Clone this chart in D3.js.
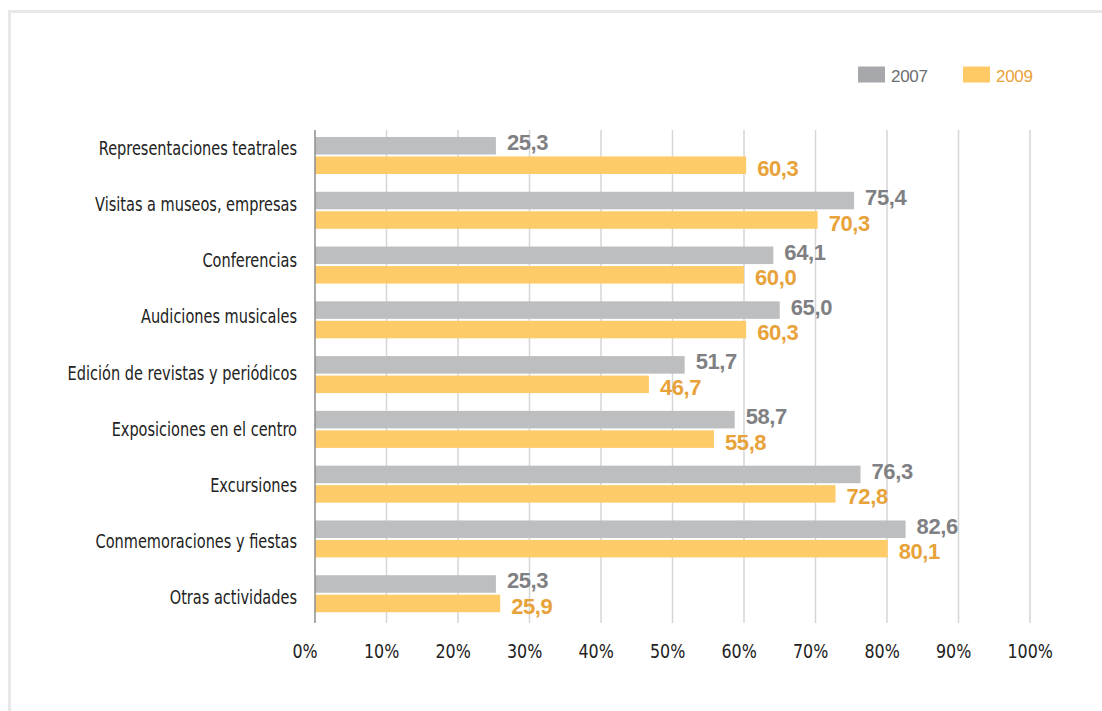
<!DOCTYPE html>
<html>
<head>
<meta charset="utf-8">
<script src="https://cdn.jsdelivr.net/npm/d3@7"></script>
<style>
  html, body { margin: 0; padding: 0; background: #fff; }
  svg { display: block; }
</style>
</head>
<body>
<svg id="chart" width="1102" height="711"></svg>
<script>
const categories = [
  "Representaciones teatrales",
  "Visitas a museos, empresas",
  "Conferencias",
  "Audiciones musicales",
  "Edición de revistas y periódicos",
  "Exposiciones en el centro",
  "Excursiones",
  "Conmemoraciones y fiestas",
  "Otras actividades"
];
const seriesNames = ["2007", "2009"];
const values2007 = [25.3, 75.4, 64.1, 65.0, 51.7, 58.7, 76.3, 82.6, 25.3];
const values2009 = [60.3, 70.3, 60.0, 60.3, 46.7, 55.8, 72.8, 80.1, 25.9];
const tickValues = [0, 10, 20, 30, 40, 50, 60, 70, 80, 90, 100];
const tickLabels = ["0%", "10%", "20%", "30%", "40%", "50%", "60%", "70%", "80%", "90%", "100%"];

const barColors = { "2007": "#BDBEC0", "2009": "#FECB69" };
const swatchColors = { "2007": "#A7A8AB", "2009": "#FFC966" };
const textColors = { "2007": "#7F8083", "2009": "#E8A23A" };

const narrowFont = "'Liberation Sans Narrow', 'DejaVu Sans Condensed', sans-serif";

const svg = d3.select("#chart");

// frame
svg.append("rect")
  .attr("x", 9.5).attr("y", 11.5)
  .attr("width", 1110).attr("height", 720)
  .attr("fill", "none").attr("stroke", "#E8E8E8").attr("stroke-width", 3);

const x = d3.scaleLinear().domain([0, 100]).range([315, 1030]);
const y = d3.scaleBand().domain(categories).range([130, 623]);
const ySub = d3.scaleBand().domain(seriesNames).range([7, 44]).paddingInner(0.1);
const yLabel = d3.scalePoint().domain(categories).range([155, 604]);

// gridlines
svg.append("g").selectAll("line")
  .data(tickValues.filter(t => t > 0))
  .join("line")
  .attr("x1", d => x(d)).attr("x2", d => x(d))
  .attr("y1", 130).attr("y2", 623)
  .attr("stroke", "#D6D6D6").attr("stroke-width", 1.5);

// x axis tick labels via d3 axis
const xAxis = d3.axisBottom(x)
  .tickValues(tickValues)
  .tickFormat((d, i) => tickLabels[i])
  .tickSize(0);
const axG = svg.append("g").call(xAxis);
axG.select(".domain").remove();
axG.selectAll("text")
  .attr("y", null).attr("dy", null).attr("x", null)
  .attr("text-anchor", "start")
  .attr("transform", "translate(-23,658) scale(0.93,1)")
  .attr("fill", "#222")
  .style("font-family", narrowFont)
  .style("font-size", "19px");

const rows = categories.map((c, i) => ({ cat: c, v: { "2007": values2007[i], "2009": values2009[i] } }));

// bars
const groups = svg.append("g").selectAll("g")
  .data(rows).join("g")
  .attr("transform", d => `translate(0,${y(d.cat)})`);

groups.selectAll("rect")
  .data(d => seriesNames.map(s => ({ s, v: d.v[s] })))
  .join("rect")
  .attr("x", x(0))
  .attr("y", d => ySub(d.s))
  .attr("width", d => x(d.v) - x(0))
  .attr("height", ySub.bandwidth())
  .attr("fill", d => barColors[d.s]);

groups.selectAll("text.val")
  .data(d => seriesNames.map(s => ({ s, v: d.v[s] })))
  .join("text")
  .attr("class", "val")
  .attr("x", d => x(d.v) + 11)
  .attr("y", d => ySub(d.s) + ySub.bandwidth() / 2 + (d.s === "2007" ? 4.5 : 10.5))
  .attr("fill", d => textColors[d.s])
  .style("font-family", "'Liberation Sans', Arial, sans-serif")
  .style("font-weight", "bold")
  .style("font-size", "22px")
  .style("letter-spacing", "-0.4px")
  .text(d => d.v.toFixed(1).replace(".", ","));

// axis line at 0
svg.append("line")
  .attr("x1", x(0)).attr("x2", x(0))
  .attr("y1", 130).attr("y2", 623)
  .attr("stroke", "#8E8E8E").attr("stroke-width", 1.5);

// category labels
svg.append("g").selectAll("text")
  .data(categories).join("text")
  .attr("transform", d => `translate(297,${yLabel(d)}) scale(0.85,1)`)
  .attr("text-anchor", "end")
  .attr("fill", "#222")
  .style("font-family", narrowFont)
  .style("font-size", "19px")
  .text(d => d);

// legend
const legendX = { "2007": 858, "2009": 963 };
const leg = svg.append("g").selectAll("g")
  .data(seriesNames).join("g")
  .attr("transform", d => `translate(${legendX[d]},66.5)`);
leg.append("rect")
  .attr("width", 27).attr("height", 16)
  .attr("fill", d => swatchColors[d]);
leg.append("text")
  .attr("x", 33).attr("y", 15)
  .attr("fill", d => d === "2007" ? "#6D6E71" : "#E8A23A")
  .style("font-family", "'Liberation Sans', Arial, sans-serif")
  .style("font-size", "17px")
  .style("letter-spacing", "-0.3px")
  .text(d => d);
</script>
</body>
</html>
